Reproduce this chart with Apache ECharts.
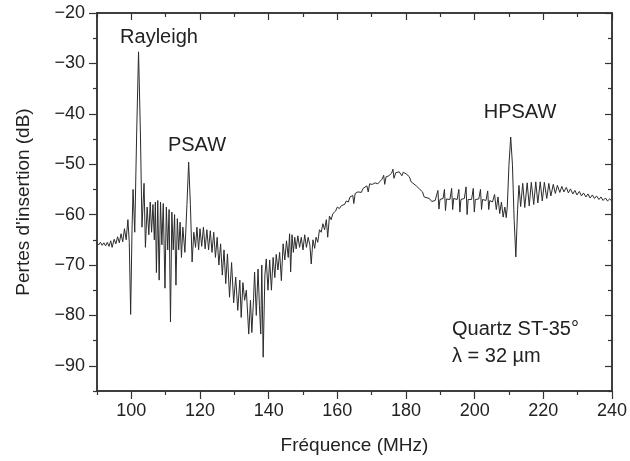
<!DOCTYPE html>
<html>
<head>
<meta charset="utf-8">
<script src="https://cdn.jsdelivr.net/npm/echarts@6/dist/echarts.min.js"></script>
<style>
  html, body { margin: 0; padding: 0; background: #fff; }
  #chart_stat { width: 630px; height: 461px; }
</style>
</head>
<body>
<div id="chart_stat"></div>
<script>
    // trace, [frequence MHz, pertes dB]
    var segLow = [
        [90.0, -65.6], [90.5, -66.0], [91.0, -65.5], [91.5, -66.1], [92.0, -65.6], [92.5, -66.2],
        [93.0, -65.5], [93.5, -66.3], [94.0, -65.2], [94.4, -66.5], [95.0, -64.9], [95.5, -65.8],
        [96.0, -64.4], [96.5, -65.6], [97.0, -63.8], [97.5, -65.4], [98.0, -62.8], [98.5, -65.0],
        [99.0, -61.0], [99.4, -65.5]
    ];
    var segRayleigh = [
        [99.8, -79.8], [100.2, -63.0], [100.5, -55.0], [101.0, -63.5], [101.55, -44.0], [102.1, -27.7],
        [102.65, -44.0], [103.1, -62.5], [103.7, -53.8], [104.1, -66.5], [104.6, -58.5], [105.1, -64.0],
        [105.5, -57.5], [105.9, -63.5], [106.3, -58.0], [106.7, -65.0], [107.0, -57.5], [107.3, -71.5],
        [107.7, -57.2], [108.1, -73.0], [108.5, -57.5], [108.9, -66.0], [109.3, -57.8], [109.8, -74.6],
        [110.2, -58.5], [110.6, -67.0], [111.0, -59.0], [111.4, -81.3], [111.8, -59.5], [112.2, -67.0],
        [112.6, -60.0], [113.0, -74.0], [113.4, -60.8], [113.8, -67.0], [114.2, -61.5], [114.6, -68.5],
        [115.0, -62.5], [115.6, -67.5]
    ];
    var segPsaw = [
        [116.2, -58.0], [116.7, -49.6], [117.2, -58.0], [117.7, -69.4], [118.2, -63.5], [118.7, -66.5],
        [119.1, -62.5], [119.6, -67.0], [120.0, -62.8], [120.5, -66.3], [121.0, -62.5], [121.5, -66.8],
        [122.0, -63.0], [122.5, -67.0], [123.0, -63.2], [123.5, -67.5], [124.0, -63.5], [124.5, -68.5],
        [125.0, -64.5], [125.5, -70.0], [126.0, -65.8], [126.5, -72.0]
    ];
    var segValley = [
        [127.0, -67.0], [127.5, -73.7], [128.0, -67.8], [128.6, -76.4], [129.2, -69.5], [129.8, -77.5],
        [130.4, -72.4], [131.0, -79.0], [131.6, -73.0], [132.0, -80.4], [132.5, -73.5], [133.0, -77.0],
        [133.5, -75.0], [134.2, -83.7], [134.7, -77.0], [135.1, -83.4], [135.6, -76.7], [135.9, -71.4],
        [136.4, -80.0], [136.9, -70.8], [137.3, -78.0], [137.7, -83.7], [138.0, -70.0], [138.4, -88.3],
        [138.9, -72.0], [139.3, -68.8], [139.8, -75.0], [140.3, -69.0], [140.8, -75.0], [141.3, -68.5],
        [141.8, -72.5], [142.2, -67.9], [142.7, -71.0], [143.2, -67.5], [143.7, -73.1], [144.2, -65.8],
        [144.7, -69.0], [145.2, -65.2], [145.7, -68.5], [146.1, -63.8], [146.4, -71.4], [146.8, -64.0],
        [147.2, -67.5], [147.6, -64.5], [148.0, -66.8], [148.5, -64.2], [149.0, -66.5], [149.5, -64.5],
        [150.0, -67.0], [150.5, -64.0], [151.0, -66.5], [151.5, -64.5], [152.0, -66.0], [152.4, -69.8]
    ];
    var segRise = [
        [152.9, -65.0], [153.4, -66.7], [153.8, -64.5], [154.3, -65.5], [154.8, -63.0], [155.3, -63.5],
        [155.8, -61.8], [156.3, -63.0], [156.8, -61.0], [157.2, -64.5], [157.7, -60.3], [158.2, -61.0],
        [158.7, -59.8], [159.5, -59.3], [160.0, -58.5], [160.6, -58.8], [161.2, -58.2], [162.1, -58.0],
        [162.6, -57.3], [163.2, -57.5], [163.7, -56.5], [164.2, -56.8], [164.5, -56.2], [164.8, -57.8],
        [165.2, -55.8], [166.0, -55.5], [166.5, -55.2], [167.0, -55.6], [167.5, -54.8], [168.0, -55.0],
        [168.6, -54.3], [169.0, -55.5], [169.4, -53.9], [170.2, -54.0], [171.0, -53.7], [171.8, -53.9],
        [172.3, -53.5], [173.0, -53.0], [173.5, -52.2], [173.8, -54.0], [174.2, -52.5], [175.0, -52.3],
        [175.8, -51.8], [176.2, -51.0], [176.5, -52.8], [177.0, -51.7], [178.0, -51.5], [178.5, -51.2],
        [178.8, -52.3], [179.2, -51.6], [180.0, -51.9], [181.0, -52.5], [181.5, -53.5], [182.0, -53.3],
        [183.0, -54.3], [183.9, -54.9], [184.8, -55.5], [185.3, -56.5], [185.8, -56.2], [186.8, -56.8],
        [187.5, -57.4]
    ];
    var segPlateau = [
        [188.5, -57.2], [189.0, -57.0], [189.3, -55.2], [189.6, -58.9], [189.9, -57.0], [190.8, -56.8],
        [191.2, -55.0], [191.5, -59.2], [191.8, -56.9], [192.8, -57.0], [193.3, -54.8], [193.6, -59.0],
        [193.9, -56.8], [194.9, -57.0], [195.4, -55.0], [195.7, -59.5], [196.0, -57.0], [197.0, -56.8],
        [197.5, -54.5], [197.8, -60.0], [198.1, -57.0], [199.1, -57.0], [199.6, -54.8], [199.9, -59.5],
        [200.2, -57.0], [201.2, -56.9], [201.7, -55.0], [202.0, -59.0], [202.3, -57.0], [203.3, -57.2],
        [203.8, -55.3], [204.1, -59.0], [204.4, -57.2], [205.2, -57.5], [205.8, -56.0], [206.3, -59.0],
        [206.8, -56.5], [207.3, -59.8], [207.8, -57.5], [208.3, -60.5], [208.8, -58.5], [209.2, -60.6]
    ];
    var segHpsaw = [
        [209.5, -58.5], [210.0, -50.0], [210.5, -44.6], [211.0, -50.0], [211.5, -61.0], [212.0, -68.4],
        [212.5, -59.0], [212.9, -54.2], [213.4, -58.4], [214.0, -53.8], [214.6, -58.6], [215.3, -53.7],
        [215.9, -58.3], [216.5, -53.6], [217.2, -58.0], [217.8, -53.5], [218.4, -57.7], [219.1, -53.5],
        [219.7, -57.3], [220.3, -53.6], [221.0, -56.8], [221.6, -53.8], [222.2, -56.3]
    ];
    var segTail = [
        [222.9, -54.0], [223.5, -55.8], [224.1, -54.2], [224.8, -55.6], [225.4, -54.4], [226.0, -55.5],
        [226.7, -54.6], [227.3, -55.7], [227.9, -54.9], [228.6, -55.9], [229.2, -55.2], [229.8, -56.1],
        [230.5, -55.4], [231.1, -56.3], [231.7, -55.7], [232.4, -56.5], [233.0, -55.9], [233.6, -56.7],
        [234.3, -56.1], [234.9, -56.8], [235.5, -56.3], [236.2, -57.0], [236.8, -56.5], [237.4, -57.2],
        [238.1, -56.7], [238.7, -57.3], [239.3, -56.9], [240.0, -57.3]
    ];

    var xMajor = [100, 120, 140, 160, 180, 200, 220, 240];
    var xMinor = [90, 110, 130, 150, 170, 190, 210, 230];
    var yMajor = [-90, -80, -70, -60, -50, -40, -30, -20];
    var yMinor = [-95, -85, -75, -65, -55, -45, -35, -25];

    var trace = [].concat(segLow, segRayleigh, segPsaw, segValley, segRise, segPlateau, segHpsaw, segTail);

    var font = '"Liberation Sans", Arial, sans-serif';
    var ink = '#222';
    var frame = '#333';

    function xAx(pos, ticks, len, inside, labels) {
        return {
            type: 'value', min: 90, max: 240, position: pos,
            splitLine: {show: false},
            axisLine: {show: true, onZero: false, lineStyle: {color: frame, width: 1.5}},
            axisTick: {show: true, customValues: ticks, length: len, inside: inside,
                lineStyle: {color: frame, width: 1.2}},
            axisLabel: labels ? {show: true, customValues: ticks, margin: 11, color: ink,
                fontFamily: font, fontSize: 18} : {show: false}
        };
    }
    function yAx(pos, ticks, len, inside, labels) {
        return {
            type: 'value', min: -95, max: -20, position: pos,
            splitLine: {show: false},
            axisLine: {show: true, onZero: false, lineStyle: {color: frame, width: 1.5}},
            axisTick: {show: true, customValues: ticks, length: len, inside: inside,
                lineStyle: {color: frame, width: 1.2}},
            axisLabel: labels ? {show: true, customValues: ticks, margin: 12, color: ink,
                fontFamily: font, fontSize: 18,
                formatter: function (v) { return String(v).replace('-', '\u2212'); }} : {show: false}
        };
    }

    var chart = echarts.init(document.getElementById('chart_stat'));

    var xBottom = xAx('bottom', xMajor, 8, false, true);
    xBottom.name = 'Fréquence (MHz)';
    xBottom.nameLocation = 'middle';
    xBottom.nameGap = 45;
    xBottom.nameTextStyle = {color: ink, fontFamily: font, fontSize: 19};

    var yLeft = yAx('left', yMajor, 8, false, true);
    yLeft.name = "Pertes d'insertion (dB)";
    yLeft.nameLocation = 'middle';
    yLeft.nameGap = 64;
    yLeft.nameTextStyle = {color: ink, fontFamily: font, fontSize: 19};

    var option = {
        backgroundColor: '#fff',
        animation: false,
        grid: {left: 97, right: 17, top: 13, bottom: 70},
        xAxis: [
            xBottom,
            xAx('bottom', xMinor, 4, false, false),
            xAx('top', xMajor, 7, true, false),
            xAx('top', xMinor, 4, true, false)
        ],
        yAxis: [
            yLeft,
            yAx('left', yMinor, 4, false, false),
            yAx('right', yMajor, 7, true, false),
            yAx('right', yMinor, 4, true, false)
        ],
        graphic: [
            {type: 'text', x: 159, y: 37, style: {text: 'Rayleigh', fill: ink, font: '20px ' + font, textAlign: 'center', textVerticalAlign: 'middle'}},
            {type: 'text', x: 197, y: 145, style: {text: 'PSAW', fill: ink, font: '20px ' + font, textAlign: 'center', textVerticalAlign: 'middle'}},
            {type: 'text', x: 520, y: 112, style: {text: 'HPSAW', fill: ink, font: '20px ' + font, textAlign: 'center', textVerticalAlign: 'middle'}},
            {type: 'text', x: 452, y: 329, style: {text: 'Quartz ST-35°', fill: ink, font: '20px ' + font, textAlign: 'left', textVerticalAlign: 'middle'}},
            {type: 'text', x: 452, y: 356, style: {text: 'λ = 32 µm', fill: ink, font: '20px ' + font, textAlign: 'left', textVerticalAlign: 'middle'}}
        ],
        series: [
            {
                name: 'Pertes',
                type: 'line',
                xAxisIndex: 0,
                yAxisIndex: 0,
                data: trace,
                showSymbol: false,
                symbol: 'none',
                lineStyle: {color: '#2b2b2b', width: 1},
                silent: true
            }
        ]
    };
    chart.setOption(option);
</script>
</body>
</html>
